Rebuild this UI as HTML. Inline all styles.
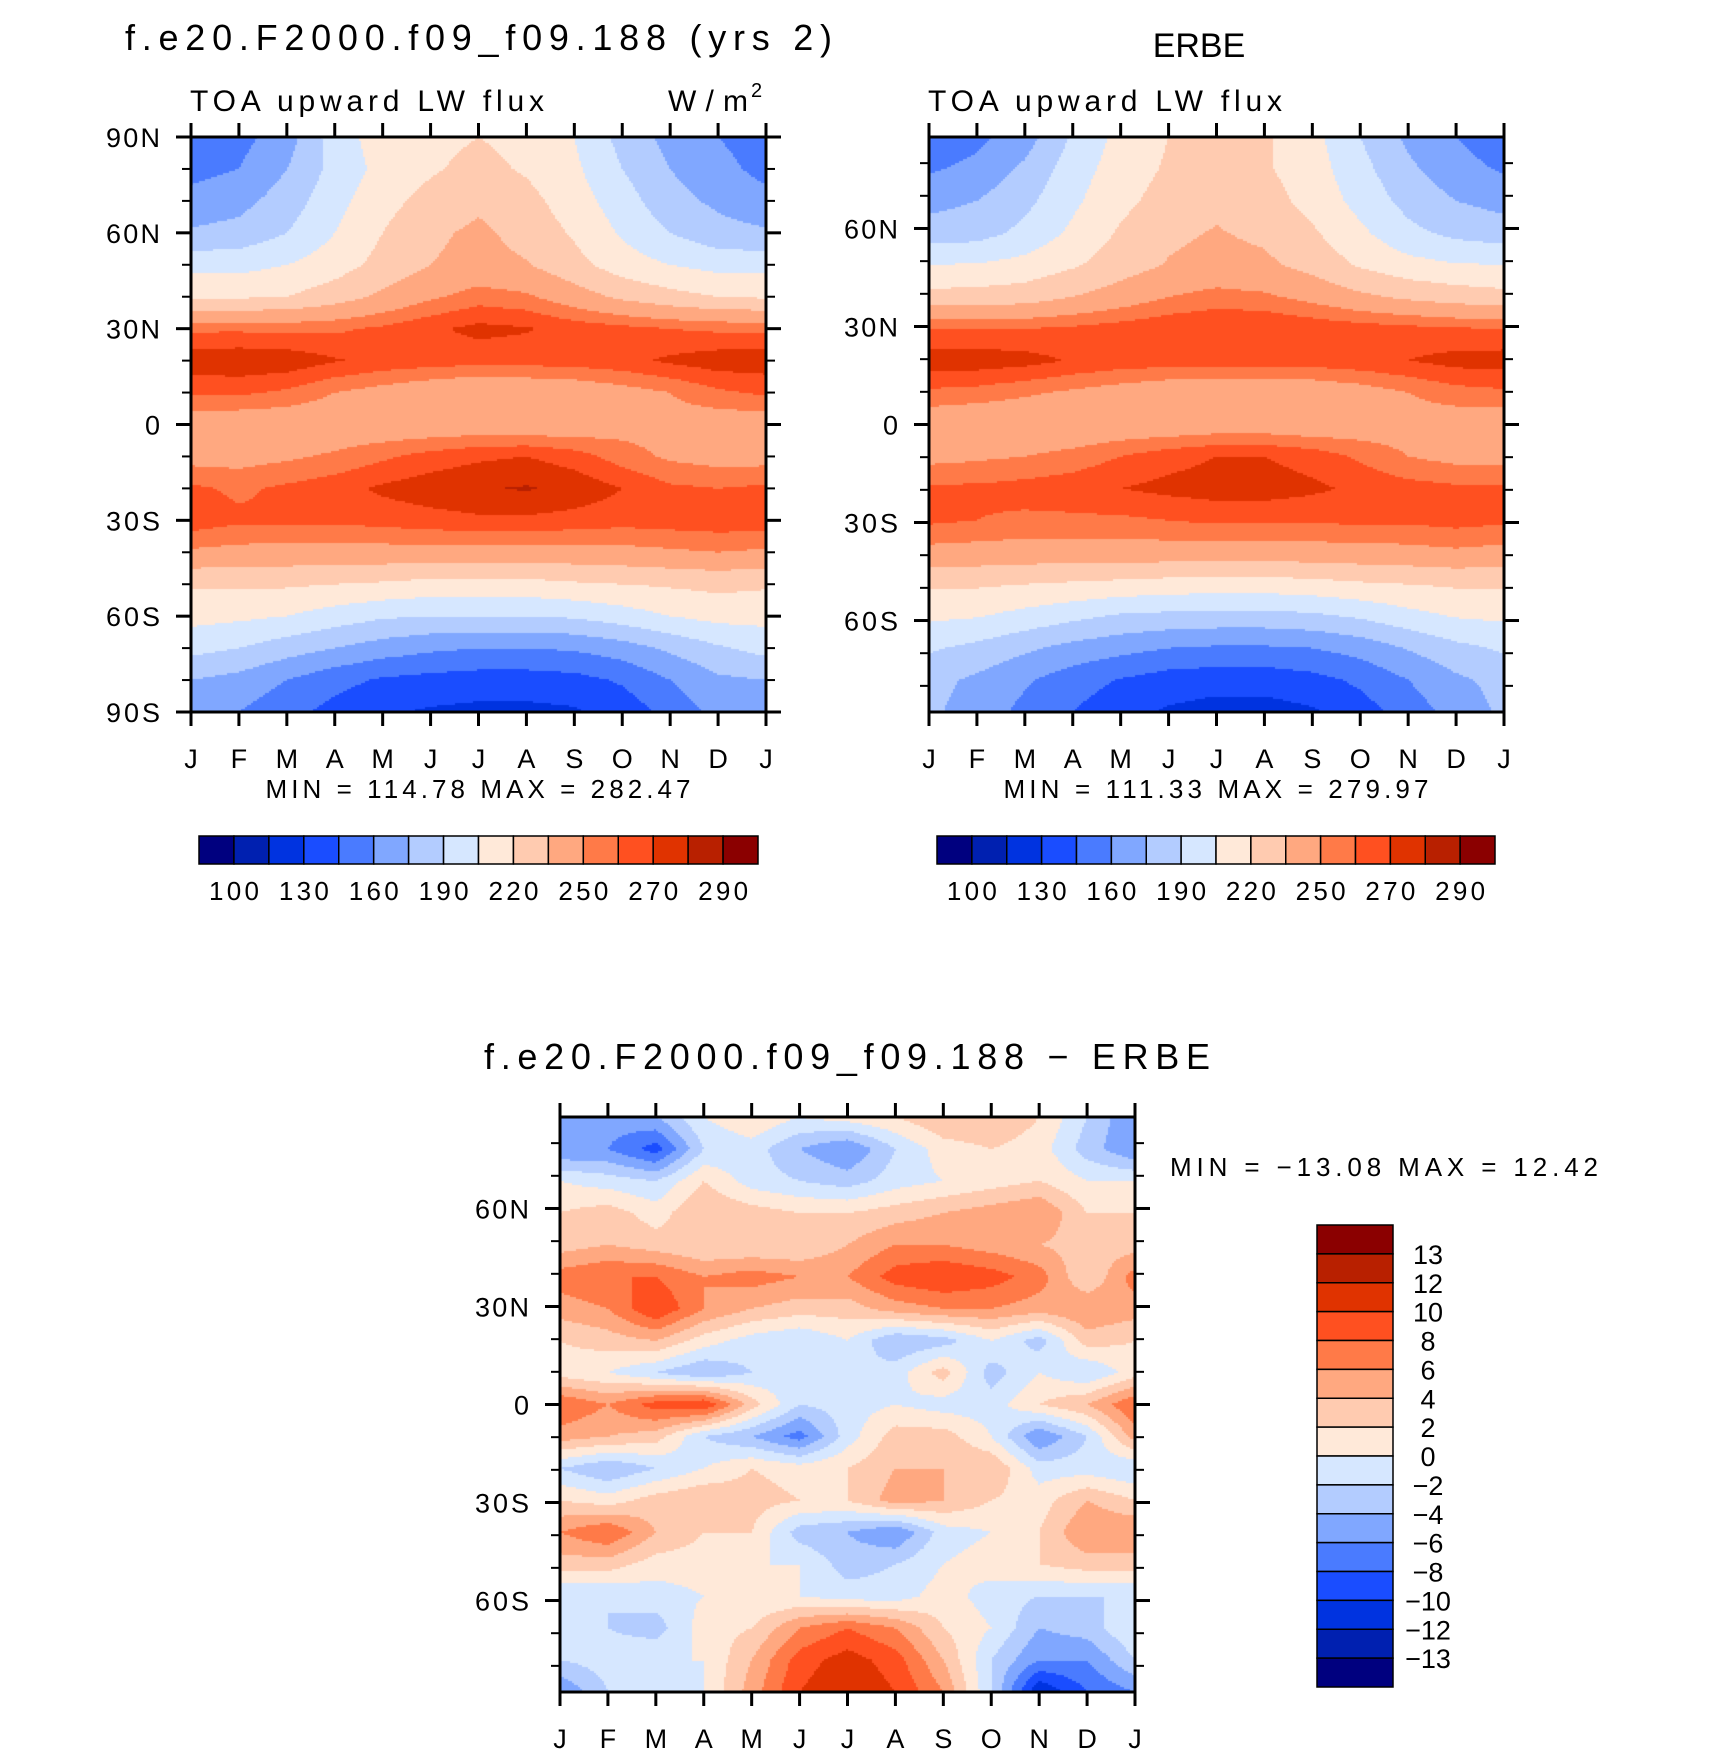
<!DOCTYPE html>
<html><head><meta charset="utf-8">
<style>
html,body{margin:0;padding:0;background:#fff;}
#wrap{position:relative;width:1710px;height:1756px;overflow:hidden;}
canvas{position:absolute;}
svg{position:absolute;left:0;top:0;}
text{font-family:"Liberation Sans",sans-serif;fill:#000;}
</style></head>
<body>
<div id="wrap">
<canvas id="c1"></canvas>
<canvas id="c2"></canvas>
<canvas id="c3"></canvas>
<svg id="svg" width="1710" height="1756"></svg>
</div>
<script>
// ---- data ----
const months = ["J","F","M","A","M","J","J","A","S","O","N","D","J"];
const fluxLevels = [100,115,130,145,160,175,190,205,220,235,250,260,270,280,290];
const fluxLabels = ["100","130","160","190","220","250","270","290"];
const diffLevels = [-13,-12,-10,-8,-6,-4,-2,0,2,4,6,8,10,12,13];
const diffLabels = ["13","12","10","8","6","4","2","0","\u22122","\u22124","\u22126","\u22128","\u221210","\u221212","\u221213"];
const palette = ["#00007f","#0020b0","#0033e0","#1a4dff","#4a7bff","#80a7ff","#b3ccff","#d6e7ff","#ffe9d9","#ffcbb0","#ffa880","#ff7a48","#ff5020","#e03300","#b82000","#8b0000"];
// rows: north -> south, columns: Jan..Jan
const modelFlux = [
[152,155,168,198,212,215,220,215,205,185,170,160,152],
[155,160,175,195,210,218,225,218,208,190,175,165,155],
[165,170,182,200,215,225,232,225,212,197,180,172,165],
[177,180,190,205,220,232,238,230,218,203,190,180,177],
[200,200,205,213,225,235,240,236,225,212,205,200,200],
[218,218,220,228,238,248,255,252,242,232,225,220,218],
[258,258,257,258,262,268,273,271,266,263,260,258,258],
[276,278,277,271,267,265,264,264,265,267,272,276,276],
[262,262,258,250,245,240,236,238,240,245,250,258,262],
[242,240,240,240,240,240,241,240,240,245,245,242,242],
[245,245,248,252,258,264,268,270,265,255,248,245,245],
[262,258,262,266,272,276,279,281,277,270,262,260,262],
[266,262,262,262,264,266,268,268,266,264,265,266,266],
[248,246,245,245,245,245,245,245,245,246,248,250,248],
[222,222,222,220,218,215,215,215,218,220,222,224,222],
[210,208,205,198,192,190,190,190,192,198,205,210,210],
[195,190,182,175,168,163,160,160,162,168,178,188,195],
[175,170,160,150,143,140,138,138,140,147,160,172,175],
[170,160,150,140,132,128,126,126,128,136,150,165,170]];
const erbeFlux = [
[150,156,168,192,210,220,226,222,210,190,172,160,150],
[158,164,178,198,212,222,228,222,212,195,178,166,158],
[170,175,186,202,216,226,232,226,215,200,185,175,170],
[182,184,194,208,222,232,236,232,222,208,194,186,182],
[205,206,210,218,228,236,240,238,230,218,210,206,205],
[225,226,228,235,242,250,254,252,246,238,232,228,225],
[260,260,260,262,265,268,270,270,267,265,263,261,260],
[275,276,274,269,266,265,265,265,265,267,270,274,275],
[258,256,252,248,244,240,238,238,240,244,250,256,258],
[240,238,238,238,240,240,242,242,240,242,244,242,240],
[246,248,250,254,260,266,270,270,266,258,250,246,246],
[262,262,264,266,270,273,275,275,272,268,264,262,262],
[262,260,258,258,258,260,262,262,262,262,262,264,262],
[246,245,244,244,244,244,244,244,244,245,246,248,246],
[222,222,220,218,216,214,213,213,215,218,220,222,222],
[208,206,200,194,188,186,185,185,187,192,200,206,208],
[192,186,178,170,165,160,158,158,160,166,176,186,192],
[180,172,162,152,144,138,136,136,140,148,160,172,180],
[178,168,156,145,135,128,124,124,128,138,152,166,178]];
const diffValues = [
[-6,-5,-4,0,2,0,1,2,4,4,2,-2,-6],
[-6,-6,-9,-2,-1,-4,-6,-2,1,2,1,-3,-6],
[0,-1,-2,2,-1,-2,-3,-1,0,1,2,0,0],
[2,3,1,4,3,2,2,3,4,5,6,2,2],
[3,4,3,2,2,2,4,6,6,5,4,3,3],
[7,8,8,6,7,6,6,9,10,9,7,2,7],
[5,6,10,6,4,3,3,5,6,6,5,6,5],
[2,3,4,1,-1,-2,0,-4,-3,0,-3,3,2],
[1,0,-2,-4,-2,-1,-2,-1,3,-3,0,-2,1],
[8,6,9,10,3,-2,-1,0,-1,-1,2,4,8],
[5,4,3,-2,-4,-7,-1,3,3,0,-6,-2,5],
[-2,-4,-2,0,2,1,2,4,4,4,-1,-1,-2],
[2,1,3,4,3,2,2,5,4,2,1,4,2],
[6,8,4,2,2,-3,-4,-6,-1,0,2,6,6],
[3,3,1,1,0,0,-3,-2,0,1,2,3,3],
[-2,-2,-1,0,0,0,-1,-1,1,-1,-2,-2,-2],
[0,-2,-3,1,2,6,8,6,2,0,-4,-3,0],
[-2,-1,0,0,4,9,11,9,4,-2,-6,-6,-2],
[-6,-2,-2,0,5,10,12,10,6,-2,-12,-8,-6]];
const stats = {model:"MIN = 114.78  MAX = 282.47", erbe:"MIN = 111.33  MAX = 279.97", diff:"MIN = \u221213.08  MAX =   12.42"};

// ---- helpers ----
const NS="http://www.w3.org/2000/svg";
const svg=document.getElementById('svg');
function mk(tag,attrs,name,inter){const e=document.createElementNS(NS,tag);for(const k in attrs)e.setAttribute(k,attrs[k]);


svg.appendChild(e);return e;}
function txt(s,x,y,size,anchor,name,len){const t=mk('text',{x:x,y:y,'font-size':size,'text-anchor':anchor||'start'},name,false);
if(len){t.setAttribute('textLength',len);t.setAttribute('lengthAdjust','spacing');}t.textContent=s;return t;}
function colorIdx(v,levels){let i=0;while(i<levels.length&&v>=levels[i])i++;return i;}
function sample(grid,fx,fy){const R=grid.length-1,C=grid[0].length-1;
let x=fx*C,y=fy*R;let i=Math.min(Math.floor(y),R-1),j=Math.min(Math.floor(x),C-1);
let dy=y-i,dx=x-j;return grid[i][j]*(1-dx)*(1-dy)+grid[i][j+1]*dx*(1-dy)+grid[i+1][j]*(1-dx)*dy+grid[i+1][j+1]*dx*dy;}
function drawField(id,grid,levels,L,T,W,H){const c=document.getElementById(id);c.width=W;c.height=H;c.style.left=L+'px';c.style.top=T+'px';
const g=c.getContext('2d');const s=2;for(let y=0;y<H;y+=s)for(let x=0;x<W;x+=s){const v=sample(grid,(x+1)/W,(y+1)/H);g.fillStyle=palette[colorIdx(v,levels)];g.fillRect(x,y,s,s);}}
function frame(L,T,W,H,latMax,latLabels,pre){
mk('rect',{x:L,y:T,width:W,height:H,fill:'none',stroke:'#000','stroke-width':3},pre+'-frame',false);
const ly=lat=>T+(latMax-lat)/(2*latMax)*H;
for(let lat=-80;lat<=80;lat+=10){const y=ly(lat);const major=lat%30===0;const len=major?15:9;
mk('line',{x1:L-len,y1:y,x2:L,y2:y,stroke:'#000','stroke-width':major?3:2},pre+'-ytick',false);
mk('line',{x1:L+W,y1:y,x2:L+W+len,y2:y,stroke:'#000','stroke-width':major?3:2},pre+'-ytick-right',false);}
if(latMax>=90){[90,-90].forEach(lat=>{const y=ly(lat);mk('line',{x1:L-15,y1:y,x2:L,y2:y,stroke:'#000','stroke-width':3},pre+'-ytick',false);mk('line',{x1:L+W,y1:y,x2:L+W+15,y2:y,stroke:'#000','stroke-width':3},pre+'-ytick-right',false);});}
latLabels.forEach(p=>{const t=txt(p[1],L-31,ly(p[0])+10,27,'end',pre+'-y-label',p[1].length>1?p[1].length*18:null);});
for(let i=0;i<13;i++){const x=L+i*W/12;
mk('line',{x1:x,y1:T-14,x2:x,y2:T,stroke:'#000','stroke-width':3},pre+'-xtick-top',false);
mk('line',{x1:x,y1:T+H,x2:x,y2:T+H+14,stroke:'#000','stroke-width':3},pre+'-xtick',false);
txt(months[i],x,T+H+56,27,'middle',pre+'-month-label');}}
function hbar(L,T,W,H,pre){const n=palette.length,bw=W/n;
for(let i=0;i<n;i++)mk('rect',{x:L+i*bw,y:T,width:bw,height:H,fill:palette[i],stroke:'#000','stroke-width':1.5},pre+'-colorbar-box',false);
fluxLabels.forEach((s,k)=>txt(s,L+(2*k+1)*bw,T+H+36,26,'middle',pre+'-colorbar-label',50));}

// ---- top left ----
const L1=191,T1=137,S=575;
drawField('c1',modelFlux,fluxLevels,L1,T1,S,S);
frame(L1,T1,S,S,90,[[90,'90N'],[60,'60N'],[30,'30N'],[0,'0'],[-30,'30S'],[-60,'60S'],[-90,'90S']],'model');
txt('f.e20.F2000.f09_f09.188 (yrs 2)',125,50,36,'start','model-title',707);
txt('TOA upward LW flux',190,111,30,'start','model-subtitle',354);
txt('W/m',668,111,30,'start','units-label',80);
txt('2',751,97,20,'start','units-superscript');
txt(stats.model,478,798,26,'middle','model-min-max',425);
hbar(199,836,559,28,'model');

// ---- top right ----
const L2=929,T2=137;
drawField('c2',erbeFlux,fluxLevels,L2,T2,S,S);
frame(L2,T2,S,S,88,[[60,'60N'],[30,'30N'],[0,'0'],[-30,'30S'],[-60,'60S']],'erbe');
txt('ERBE',1199,57,34,'middle','erbe-title');
txt('TOA upward LW flux',928,111,30,'start','erbe-subtitle',354);
txt(stats.erbe,1216,798,26,'middle','erbe-min-max',425);
hbar(937,836,558,28,'erbe');

// ---- bottom ----
const L3=560,T3=1117;
drawField('c3',diffValues,diffLevels,L3,T3,S,S);
frame(L3,T3,S,S,88,[[60,'60N'],[30,'30N'],[0,'0'],[-30,'30S'],[-60,'60S']],'diff');
txt('f.e20.F2000.f09_f09.188 \u2212 ERBE',847,1069,36,'middle','diff-title',726);
txt(stats.diff,1170,1176,26,'start','diff-min-max',428);
(function(){const L=1317,T=1225,W=76,H=462,n=palette.length,bh=H/n;
for(let i=0;i<n;i++)mk('rect',{x:L,y:T+i*bh,width:W,height:bh,fill:palette[n-1-i],stroke:'#000','stroke-width':1.5},'diff-colorbar-box',false);
diffLabels.forEach((s,k)=>txt(s,1428,T+(k+1)*bh+10,27,'middle','diff-colorbar-label'));})();
</script>
</body></html>
